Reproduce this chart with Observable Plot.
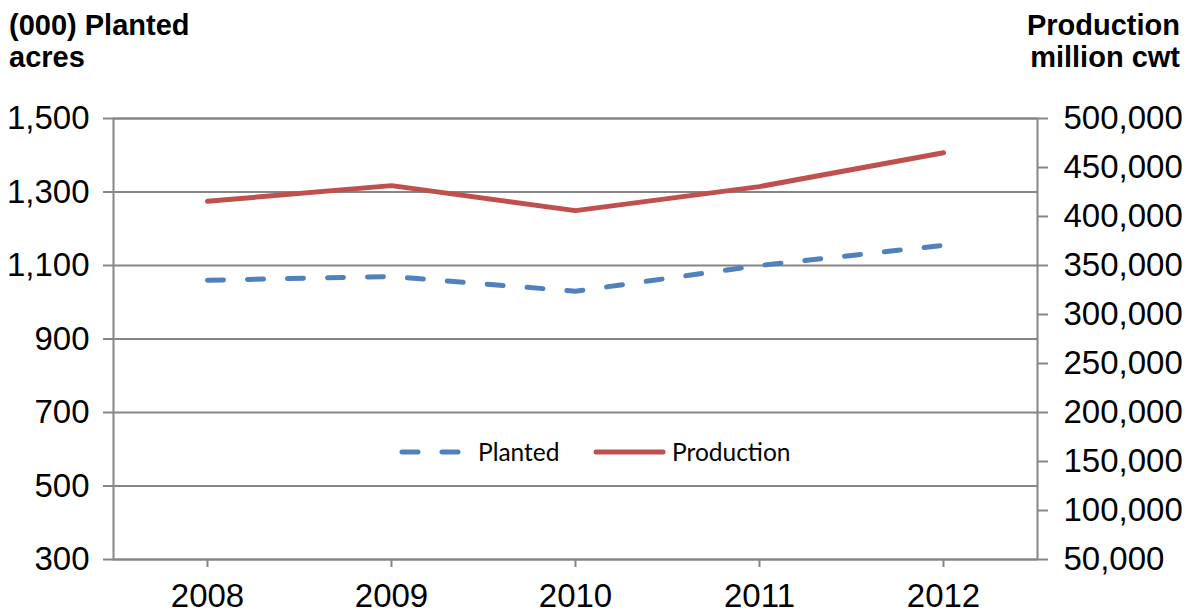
<!DOCTYPE html>
<html>
<head>
<meta charset="utf-8">
<script src="https://cdn.jsdelivr.net/npm/d3@7"></script>
<script src="https://cdn.jsdelivr.net/npm/@observablehq/plot@0.6"></script>
<style>
  html, body { margin: 0; padding: 0; background: #fff; }
  #wrap { position: relative; width: 1193px; height: 613px; font-family: "Liberation Sans", Arial, sans-serif; }
  .title { position: absolute; font-weight: bold; font-size: 29px; line-height: 32px; color: #000; }
  #overlay { position: absolute; left: 0; top: 0; pointer-events: none; }
</style>
</head>
<body>
<div id="wrap">
  <div class="title" id="tl" style="left:9px; top:9px;"></div>
  <div class="title" id="tr" style="right:13px; top:9px; text-align:right;"></div>
</div>
<script>
// ---- Data ----
const years = ["2008", "2009", "2010", "2011", "2012"];
const planted = [1060, 1070, 1030, 1100, 1155];            // (000) planted acres
const production = [415500, 431500, 406000, 430500, 465000]; // production
const leftTicks = [300, 500, 700, 900, 1100, 1300, 1500];
const rightTicks = [50000, 100000, 150000, 200000, 250000, 300000, 350000, 400000, 450000, 500000];
const leftTitle = ["(000) Planted", "acres"];
const rightTitle = ["Production", "million cwt"];
const seriesNames = ["Planted", "Production"];
const colors = ["#4F81BD", "#C0504D"];

// ---- Dual axis mapping ----
const leftDomain = [300, 1500];
const rightDomain = [50000, 500000];
const toLeft = v => leftDomain[0] + (v - rightDomain[0]) * (leftDomain[1] - leftDomain[0]) / (rightDomain[1] - rightDomain[0]);
const toRight = v => rightDomain[0] + (v - leftDomain[0]) * (rightDomain[1] - rightDomain[0]) / (leftDomain[1] - leftDomain[0]);

const data = years.map((y, i) => ({year: y, planted: planted[i], production: production[i]}));

document.getElementById("tl").innerHTML = leftTitle.join("<br>");
document.getElementById("tr").innerHTML = rightTitle.join("<br>");

const gray = "#868686";
const fmt = d3.format(",");
const fs = 33;

const chart = Plot.plot({
  width: 1193,
  height: 613,
  marginTop: 118,
  marginBottom: 54,
  marginLeft: 113,
  marginRight: 156,
  style: {fontFamily: "Liberation Sans, Arial, sans-serif", background: "transparent", color: "#000"},
  x: {type: "point", domain: years, padding: 0.5},
  y: {domain: leftDomain},
  marks: [
    Plot.gridY(leftTicks, {stroke: gray, strokeOpacity: 1, strokeWidth: 2}),
    Plot.frame({stroke: gray, strokeWidth: 2}),
    Plot.axisY(leftTicks, {anchor: "left", tickSize: 10, tickPadding: 14, fontSize: fs, stroke: gray, strokeWidth: 2, fill: "#000", tickFormat: fmt, label: null}),
    Plot.axisY(rightTicks.map(toLeft), {anchor: "right", tickSize: 10, tickPadding: 16, fontSize: fs, stroke: gray, strokeWidth: 2, fill: "#000", tickFormat: d => fmt(Math.round(toRight(d))), label: null}),
    Plot.axisX(years, {anchor: "bottom", tickSize: 8, tickPadding: 16, fontSize: fs, stroke: gray, strokeWidth: 2, fill: "#000", label: null}),
    Plot.line(data, {x: "year", y: d => toLeft(d.production), stroke: colors[1], strokeWidth: 5, strokeLinecap: "round", strokeLinejoin: "round", curve: "linear"}),
    Plot.line(data, {x: "year", y: "planted", stroke: colors[0], strokeWidth: 5, strokeDasharray: "16 24", strokeLinecap: "round", strokeLinejoin: "round", curve: "linear"})
  ]
});
document.getElementById("wrap").appendChild(chart);

// ---- Legend overlay ----
const ns = "http://www.w3.org/2000/svg";
const ov = document.createElementNS(ns, "svg");
ov.setAttribute("id", "overlay");
ov.setAttribute("width", 1193);
ov.setAttribute("height", 613);
const legendItems = [
  {name: seriesNames[0], color: colors[0], x1: 402, x2: 461, dash: "16 24", tx: 478},
  {name: seriesNames[1], color: colors[1], x1: 596, x2: 663, dash: null, tx: 672}
];
const legY = 452;
for (const it of legendItems) {
  const l = document.createElementNS(ns, "line");
  l.setAttribute("x1", it.x1); l.setAttribute("x2", it.x2);
  l.setAttribute("y1", legY); l.setAttribute("y2", legY);
  l.setAttribute("stroke", it.color); l.setAttribute("stroke-width", 5);
  l.setAttribute("stroke-linecap", "round");
  if (it.dash) l.setAttribute("stroke-dasharray", it.dash);
  ov.appendChild(l);
  const t = document.createElementNS(ns, "text");
  t.setAttribute("x", it.tx); t.setAttribute("y", 461);
  t.setAttribute("font-family", "Lato, 'Open Sans', sans-serif");
  t.setAttribute("font-size", 24.5);
  t.setAttribute("fill", "#000");
  t.textContent = it.name;
  ov.appendChild(t);
}
document.getElementById("wrap").appendChild(ov);
</script>
</body>
</html>
